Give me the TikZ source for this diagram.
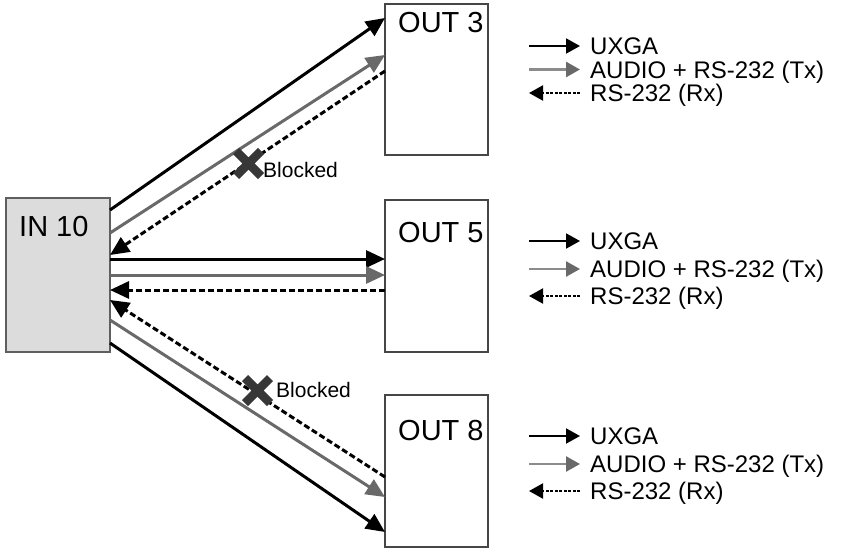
\documentclass[tikz,border=0pt]{standalone}
\usepackage{fontspec}
\setmainfont{Liberation Sans}
\usetikzlibrary{arrows.meta}
\definecolor{boxc}{RGB}{70,70,70}
\definecolor{inborder}{RGB}{95,95,95}
\definecolor{infill}{RGB}{220,220,220}
\definecolor{midgray}{RGB}{105,105,105}
\definecolor{leggray}{RGB}{140,140,140}
\definecolor{xcol}{RGB}{55,55,55}
\begin{document}
\begin{tikzpicture}[x=1pt,y=-1pt,
  outbox/.style={draw=boxc, line width=2.5pt, minimum width=103pt, minimum height=152pt, inner sep=0pt},
  inbox/.style={draw=inborder, fill=infill, line width=2.5pt, minimum width=104pt, minimum height=154pt, inner sep=0pt},
  boxlabel/.style={font=\fontsize{29}{34}\selectfont, inner sep=0pt, text height=20.8pt, text depth=0pt, anchor=west},
  legtext/.style={font=\fontsize{24}{28}\selectfont, inner sep=0pt, text height=17.2pt, text depth=0pt, anchor=west},
  blocktext/.style={font=\fontsize{21}{25}\selectfont, inner sep=0pt, anchor=base west},
  xstroke/.style={draw=xcol, line width=8.5pt, line cap=butt},
  mhead/.style={-{Triangle[length=19pt 0, width=17pt 0]}},
  lhead/.style={-{Triangle[length=14pt 0, width=15pt 0]}},
  blk/.style={draw=black, line width=3pt, mhead},
  gry/.style={draw=midgray, line width=3pt, mhead},
  dsh/.style={draw=black, line width=3pt, dash pattern=on 6pt off 3pt, mhead},
  lblk/.style={draw=black, line width=2pt, lhead},
  lgry/.style={draw=leggray, line width=2.5pt, -{Triangle[length=14pt 0, width=15pt 0, color=midgray]}},
  ldsh/.style={draw=black, line width=2pt, dash pattern=on 3pt off 1.5pt, lhead}
]
\useasboundingbox (0,0) rectangle (858,551);

% boxes
\node[inbox] (in) at (58,275) {};
\node[outbox, minimum height=151pt] (o3) at (436.5,79.5) {};
\node[outbox] (o5) at (436.5,276) {};
\node[outbox] (o8) at (436.5,471) {};

\node[boxlabel] (lin) at (19,226) {IN 10};
\node[boxlabel] (l3) at (398,22) {OUT 3};
\node[boxlabel] (l5) at (398,232) {OUT 5};
\node[boxlabel] (l8) at (398,430) {OUT 8};

% endpoints
\coordinate (a1) at (110,210); \coordinate (b1) at (385,18);
\coordinate (a2) at (110,233); \coordinate (b2) at (385,55);
\coordinate (a3) at (110,255); \coordinate (b3) at (385,71);
\coordinate (c1) at (110,259); \coordinate (d1) at (385,259);
\coordinate (c2) at (110,275); \coordinate (d2) at (385,275);
\coordinate (c3) at (110,290); \coordinate (d3) at (385,290);
\coordinate (e3) at (110,300); \coordinate (f3) at (385,477);
\coordinate (e2) at (110,320); \coordinate (f2) at (385,497);
\coordinate (e1) at (110,343); \coordinate (f1) at (385,532);

% OUT 3 connectors
\draw[blk] (a1) -- (b1);
\draw[gry] (a2) -- (b2);
\draw[dsh] (b3) -- (a3);
% OUT 5 connectors
\draw[blk] (c1) -- (d1);
\draw[gry] (c2) -- (d2);
\draw[dsh] (d3) -- (c3);
% OUT 8 connectors
\draw[dsh] (f3) -- (e3);
\draw[gry] (e2) -- (f2);
\draw[blk] (e1) -- (f1);

% blocked marks (drawn crosses)
\draw[xstroke] (236,151) -- (261,176) (261,151) -- (236,176);
\node[blocktext] (bt1) at (263,177) {Blocked};
\draw[xstroke] (245,378) -- (270,403) (270,378) -- (245,403);
\node[blocktext] (bt2) at (276,397) {Blocked};

% legends
\foreach \nm/\ya/\yb/\yc in {p/46/69.5/93, q/241/269/296, r/436/464/491}{
  \node[legtext] (\nm1) at (590,\ya) {UXGA};
  \node[legtext] (\nm2) at (590,\yb) {AUDIO + RS-232 (Tx)};
  \node[legtext] (\nm3) at (590,\yc) {RS-232 (Rx)};
  \coordinate (\nm s1) at (529,\ya); \coordinate (\nm t1) at (580,\ya);
  \coordinate (\nm s2) at (529,\yb); \coordinate (\nm t2) at (580,\yb);
  \coordinate (\nm s3) at (529,\yc); \coordinate (\nm t3) at (580,\yc);
  \draw[lblk] (\nm s1) -- (\nm t1);
  \draw[lgry] (\nm s2) -- (\nm t2);
  \draw[ldsh] (\nm t3) -- (\nm s3);
}
\end{tikzpicture}
\end{document}
